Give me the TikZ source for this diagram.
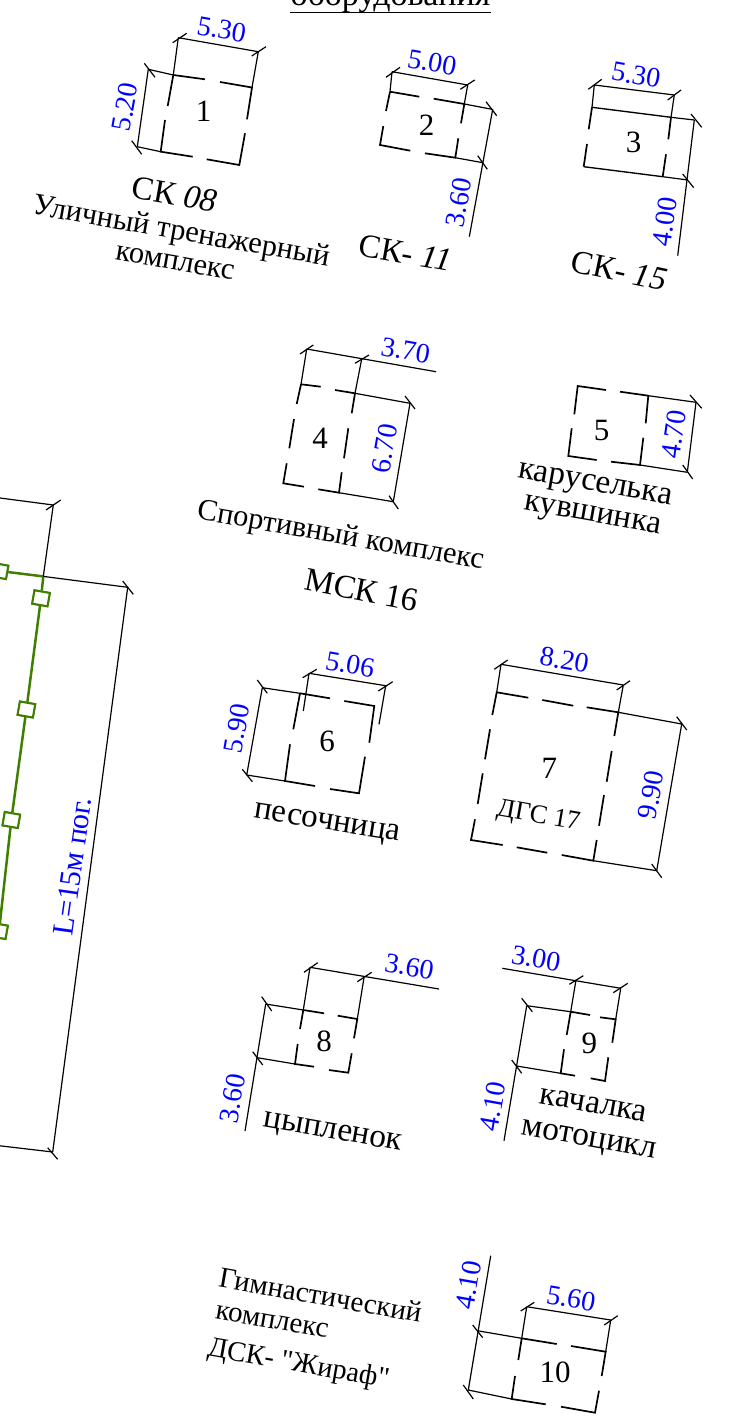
\documentclass[tikz,border=0pt]{standalone}
\usepackage{fontspec}
\setmainfont{Liberation Serif}
\newfontfamily\qfont{Liberation Serif}
\newcommand{\fsz}[1]{\fontsize{#1}{#1}\selectfont}
\definecolor{fencegreen}{HTML}{3F7F00}
\tikzset{
 thn/.style={line width=1.2pt,black},
 mid/.style={line width=1.35pt,black,line join=miter},
 thk/.style={line width=1.7pt,black,line join=miter},
 lbl/.style={inner sep=0pt,outer sep=0pt,black,align=center},
 dimt/.style={inner sep=0pt,outer sep=0pt,text=blue,font=\fsz{28}},
 numt/.style={lbl,font=\fsz{31}},
 fence/.style={line width=2.5pt,fencegreen},
 post/.style={draw=fencegreen,line width=2pt,fill=white,minimum width=15.5pt,minimum height=13.5pt,inner sep=0pt,rotate=-10}
}
\begin{document}
\begin{tikzpicture}[x=1pt,y=-1pt]
\useasboundingbox (0,0) rectangle (732,1426);
\clip (0,0) rectangle (732,1426);
% heading
\node[lbl,anchor=base,font=\fsz{34}] (head) at (390.5,6) {оборудования};
\coordinate (hl) at (290,12.7); \coordinate (hr) at (491,12.7);
\draw[line width=1.5pt] (hl)--(hr);

% 1
\draw[thn] (178.3,37.7)--(258.3,51.7) (148.3,69.3)--(137.3,146.7);
\draw[thn] (172.7,42.7)--(186.7,33.3) (251.7,56)--(266,46.7) (144.3,63.3)--(155,77.3) (131.7,140.7)--(141.7,154.3);
\draw[thn] (178.3,37.7)--(173.3,75) (258.3,51.7)--(252,87.5) (148.3,69.3)--(173.3,75) (137.3,146.7)--(160.7,151.7);
\draw[thk] (173.3,75)--(167.7,106) (165,120)--(160.7,151.7)--(192.7,156.7) (206.7,159.3)--(239.3,165)--(245,133.3) (247,119.3)--(252,87.5)--(220,82) (205,79.3)--(173.3,75);
\node[dimt,rotate=-10] (d1a) at (221.7,29.3) {5.30};
\node[dimt,rotate=80] (d1b) at (125,107) {5.20};
\node[numt] (n1) at (203.5,111) {1};
\node[lbl,rotate=-10,font=\fsz{33}] (t1a) at (174.5,194) {СК \textit{08}};
\node[lbl,rotate=-10,font=\fsz{30.5}] (t1b) at (181,233) {Уличный тренажерный};
\node[lbl,rotate=-10,font=\fsz{30.5}] (t1c) at (175,263) {комплекс};

% 2
\draw[thn] (392,71.7)--(467.7,85) (392,71.7)--(390,91.7) (467.7,85)--(464.3,104) (464.3,104)--(492,109.3) (455.3,157.7)--(482.7,162.7) (492.7,109.3)--(469.3,236.7);
\draw[thn] (386,77.3)--(400,67.3) (460.3,89.3)--(474.7,80) (486,101.7)--(496.7,115.7) (477.7,155.7)--(487.3,169.3);
\draw[thk] (390,91.7)--(386,111) (383.3,126)--(380,145)--(410.3,150.7) (425,153.3)--(455.3,157.7)--(458.3,138.3) (461,123.3)--(464.3,104)--(433.7,98.7) (419.3,96.7)--(390,91.7);
\node[dimt,rotate=-10] (d2a) at (432,62.3) {5.00};
\node[dimt,rotate=80] (d2b) at (458.7,202.7) {3.60};
\node[numt] (n2) at (426.5,125) {2};
\node[lbl,rotate=-10,font=\fsz{33}] (t2) at (405.5,253) {СК- \textit{11}};

% 3
\draw[thn] (594.3,85)--(674.3,95) (594.3,85)--(592,107.3) (674.3,95)--(671,117.3)--(694.3,120) (662.7,176.7)--(687.7,180) (694.3,120)--(677.7,255.7);
\draw[thn] (588.3,89.3)--(601.7,79.3) (667.7,100)--(681,90) (691,114)--(701.7,127.3) (682.7,174)--(693.7,187.7);
\draw[thk] (592,107.3)--(588.7,129.3) (587,144)--(583.7,166.7) (666,154.3)--(662.7,176.7) (668.3,139.3)--(671,117.3);
\draw[mid] (592,107.3)--(671,117.3) (583.7,166.7)--(662.7,176.7);
\node[dimt,rotate=-10] (d3a) at (636,75) {5.30};
\node[dimt,rotate=82] (d3b) at (665.3,221.7) {4.00};
\node[numt] (n3) at (633.7,142.7) {3};
\node[lbl,rotate=-12,font=\fsz{33}] (t3) at (619.3,270.7) {СК- \textit{15}};

% 4
\draw[thn] (306.7,349)--(436,371.7) (306.7,349)--(301,384.3) (361.7,359)--(355,393.3)--(410,403.3) (339,492.7)--(393.3,501.7) (410,403.3)--(393.3,501.7);
\draw[thn] (300,354)--(313.3,345) (355,363.3)--(369,355) (405,396)--(415,409) (389,495.7)--(398.3,509);
\draw[thk] (301,384.3)--(296.7,404) (294,419)--(289.3,448.3) (286.7,463.3)--(283.3,483.3)--(304,486.7) (318.3,489.3)--(339,492.7)--(341.7,472.3) (344,458.3)--(348.3,428.3) (351.7,413.3)--(355,393.3)--(335,390) (320.7,386.7)--(301,384.3);
\node[dimt,rotate=-10] (d4a) at (405.7,350.5) {3.70};
\node[dimt,rotate=80] (d4b) at (384.3,448.3) {6.70};
\node[numt] (n4) at (320,438.5) {4};
\node[lbl,rotate=-10,font=\fsz{30.4}] (t4a) at (340.5,536.7) {Спортивный комплекс};
\node[lbl,rotate=-11,font=\fsz{33}] (t4b) at (361.8,590) {МСК 16};

% 5
\draw[thn] (648.3,395.7)--(696,402.3) (640,465)--(687.3,472.3) (696,402.3)--(687.3,472.3);
\draw[thn] (690,395)--(701.7,408.3) (682.7,465)--(692.7,479);
\draw[thk] (606,390)--(577.7,386)--(574.3,414.3) (571.7,428.3)--(568.3,456)--(596.7,460) (611,461.7)--(640,465)--(643.3,437.7) (645.7,423.3)--(648.3,395.7)--(620,391.7);
\node[dimt,rotate=82] (d5) at (674,434.3) {4.70};
\node[numt] (n5) at (601.7,430) {5};
\node[lbl,rotate=-10,font=\fsz{33.4}] (t5a) at (595,487) {каруселька};
\node[lbl,rotate=-10,font=\fsz{33}] (t5b) at (592.5,517.5) {кувшинка};

% 6
\draw[thn] (309,673.3)--(385.7,685.7) (309,673.3)--(303.3,711) (385.7,685.7)--(379,724.3) (262.3,687.7)--(246.7,775) (262.3,687.7)--(300,693.3) (246.7,775)--(285,781);
\draw[thn] (302.7,677.7)--(316.7,669.3) (378.3,691)--(392.7,681.7) (257.3,680)--(267.3,693.3) (242.3,769.3)--(252.3,781.7);
\draw[thk] (300,693.3)--(330,698.3) (344.3,701)--(374.3,706)--(369.3,742.7) (365,756.7)--(359,793.3)--(330,789) (315,786)--(285,781)--(290,744.3) (293.3,729.3)--(300,693.3);
\node[dimt,rotate=-10] (d6a) at (350,664.3) {5.06};
\node[dimt,rotate=80] (d6b) at (236.7,728.3) {5.90};
\node[numt] (n6) at (327,741.7) {6};
\node[lbl,rotate=-9,font=\fsz{33}] (t6) at (327,825) {песочница};

% 7
\draw[thn] (501,664.3)--(623.3,685) (501,664.3)--(496.7,692.3) (623.3,685)--(618.3,712.3)--(681.7,724) (681.7,724)--(656.7,870.7) (593.3,860.7)--(656.7,870.7);
\draw[thn] (494.3,669.3)--(507.7,660) (616.7,690)--(630,680.7) (676.7,716.7)--(686.7,730) (651.7,864)--(661.7,877.7);
\draw[thk] (492.3,715)--(496.7,692.3)--(528.3,697.7) (542.3,700)--(573.3,705.7) (586.7,707.3)--(618.3,712.3)--(614.3,736) (611.7,751)--(606.7,781.7) (604,795)--(599,825.7) (596.7,840)--(593.3,860.7)--(561.7,855) (547.3,852.7)--(516.7,847.3) (502.7,845)--(471,840)--(475,819.3) (477.7,804)--(482.7,773.3) (485,759.3)--(490,729.3);
\node[dimt,rotate=-10] (d7a) at (564.3,660) {8.20};
\node[dimt,rotate=80] (d7b) at (651,795) {9.90};
\node[numt] (n7) at (549.3,768.3) {7};
\node[lbl,rotate=-10,font=\fsz{26.5}] (t7) at (538.3,816.7) {ДГС 17};

% 8
\draw[thn] (310,967.3)--(439,989) (310,967.3)--(303.3,1010) (364,977.7)--(357.3,1019) (265.7,1004)--(245,1131) (265.7,1004)--(303.3,1010) (257.3,1057.7)--(295,1064);
\draw[thn] (304,972.3)--(317.7,962.7) (357.3,981.7)--(371.7,972.3) (261.7,996.7)--(271.7,1011) (252.7,1051.7)--(262.7,1065);
\draw[thk] (303.3,1010)--(324,1013.3) (337.7,1015.7)--(357.3,1019)--(354,1038.3) (351.7,1053.3)--(348.3,1072.7)--(329,1070) (314,1066.7)--(295,1064)--(297.7,1044) (300,1029)--(303.3,1010);
\node[dimt,rotate=-10] (d8a) at (409.3,966.7) {3.60};
\node[dimt,rotate=80] (d8b) at (232.3,1098.3) {3.60};
\node[numt] (n8) at (324,1041.7) {8};
\node[lbl,rotate=-10,font=\fsz{33.4}] (t8) at (332.5,1134) {цыпленок};

% 9
\draw[thn] (502.3,968.3)--(620.7,988.3) (576,980)--(570.7,1011.7) (620.7,988.3)--(615.7,1019.3) (526.7,1005.7)--(504,1140.7) (526.7,1005.7)--(570.7,1011.7) (516.7,1066)--(560.7,1073.3);
\draw[thn] (569.3,984.3)--(583.3,975.7) (613.3,992.7)--(627.7,983.3) (521.7,998.3)--(532.3,1011.7) (511.7,1060)--(521.7,1073.3);
\draw[thk] (570.7,1011.7)--(590,1015) (600,1017.3)--(615.7,1019.3)--(612.3,1042.7) (608.3,1057.3)--(605,1081)--(590.7,1078.3) (575,1075.7)--(560.7,1073.3)--(564,1049.3) (566.7,1035)--(570.7,1011.7);
\node[dimt,rotate=-10] (d9a) at (536,958.3) {3.00};
\node[dimt,rotate=80] (d9b) at (492.7,1106.7) {4.10};
\node[numt] (n9) at (589.3,1043.3) {9};
\node[lbl,rotate=-10,font=\fsz{33.4}] (t9a) at (593.5,1105) {качалка};
\node[lbl,rotate=-10,font=\fsz{33.4}] (t9b) at (588.5,1141.7) {мотоцикл};

% 10
\draw[thn] (526.7,1306.7)--(610.7,1320) (526.7,1306.7)--(521.7,1338.3) (610.7,1320)--(605.7,1351.7) (490.7,1255.7)--(468.3,1390) (477.3,1330.7)--(521.7,1338.3) (468.3,1390)--(511.7,1399);
\draw[thn] (520.7,1311)--(534.3,1302.3) (604.3,1325)--(617.7,1315.7) (472.7,1325)--(482.7,1337.7) (463.3,1385)--(473.3,1399);
\draw[thk] (521.7,1338.3)--(556.7,1344) (571,1346)--(605.7,1351.7)--(601.7,1376) (599,1390.7)--(595,1412.7)--(561,1406.7) (545.7,1404.3)--(511.7,1399)--(515,1376) (518.3,1360)--(521.7,1338.3);
\node[dimt,rotate=-10] (d10a) at (571,1298.3) {5.60};
\node[dimt,rotate=80] (d10b) at (468.3,1285) {4.10};
\node[numt] (n10) at (555,1372.7) {10};
\node[lbl,rotate=-10,font=\fsz{29}] (t10a) at (320.5,1295) {Гимнастический};
\node[lbl,rotate=-10,font=\fsz{29}] (t10b) at (272,1321.7) {комплекс};
\node[lbl,rotate=-10,font=\fsz{28.5}] (t10c) at (298.3,1365) {\qfont ДСК- "Жираф"};

% fence
\coordinate (j) at (43.3,576.4);
\node[post] (p1) at (41,598.3) {};
\node[post] (p2) at (26.4,709.5) {};
\node[post] (p3) at (11.3,820) {};
\node[post] (p4) at (-1,931) {};
\node[post] (p0) at (-0.5,571) {};
\draw[fence] (p0)--(j);
\draw[fence] (j)--(p1) (p1)--(p2) (p2)--(p3) (p3)--(p4);
\node[post] at (p0) {};
\node[post] at (p1) {};
\node[post] at (p2) {};
\node[post] at (p3) {};
\node[post] at (p4) {};
\draw[thn] (0,498)--(53.3,505) (53.3,505)--(j) (j)--(127.7,587.3) (127.7,587.3)--(52.7,1152) (0,1145.8)--(52.7,1152);
\draw[thn] (46,510)--(60.7,500) (122.7,581)--(133.3,594.3) (47.7,1147.7)--(57.7,1159.3);
\node[inner sep=0pt,text=blue,rotate=82,font=\fsz{30}] (tl) at (72.7,866.5) {L=15м пог.};
\end{tikzpicture}
\end{document}
